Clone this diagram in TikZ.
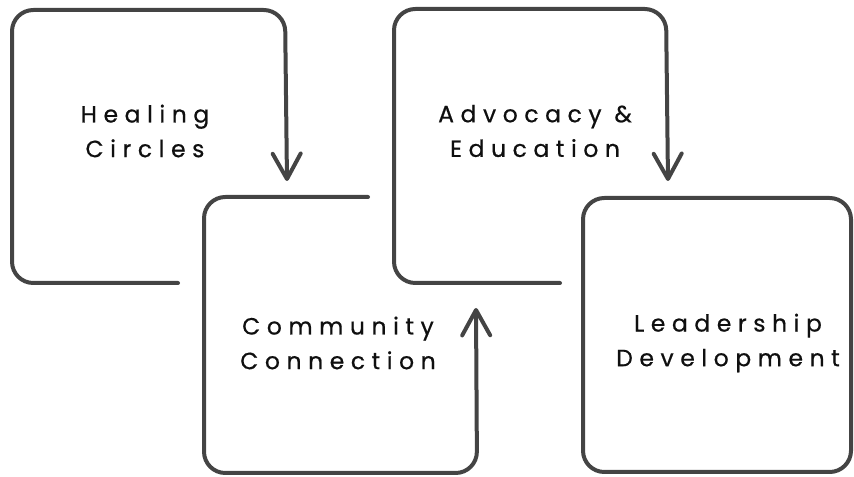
\documentclass[tikz,border=0pt]{standalone}
\usepackage{fontspec}
\usepackage{xcolor}
\usepackage{tikz}
\usetikzlibrary{arrows.meta}
\setmainfont{Poppins}[LetterSpace=28, FakeBold=0.6]
\definecolor{ink}{RGB}{68,68,68}
\definecolor{lettering}{RGB}{15,15,15}
\tikzset{
  outline/.style={draw=ink, line width=3pt, line cap=round, line join=round, rounded corners=16pt},
  flowArrow/.style={-{Straight Barb[length=19pt,width=21pt,round]}},
  label/.style={text=lettering, align=center, inner sep=0pt, font=\fontsize{17.6}{26}\selectfont}
}

\begin{document}
\begin{tikzpicture}[x=0.75pt, y=-0.75pt]
  \useasboundingbox (0,0) rectangle (854,477);
  % text of the four steps
  \node[label] (heal) at (145,131) {Healing\\Circles};
  \node[label] (comm) at (338,343) {Community\\Connection};
  \node[label] (advo) at (535,131) {Advocacy \&\\Education};
  \node[label] (lead) at (728,343) {Leadership\\Development};
  % arrow tips
  \coordinate (healTip) at (287,181);
  \coordinate (commTip) at (476,308);
  \coordinate (advoTip) at (668,181);
  % open boxes ending in arrows
  \draw[outline, flowArrow] (178,283) -- (12,283) -- (12,10) -- (285,10) -- (healTip);
  \draw[outline, flowArrow] (368,197) -- (204,197) -- (204,473) -- (477,473) -- (commTip);
  \draw[outline, flowArrow] (560,283) -- (394,283) -- (394,9) -- (666,9) -- (advoTip);
  % last box is closed
  \draw[outline] (583,198) rectangle (851,472);
\end{tikzpicture}
\end{document}
